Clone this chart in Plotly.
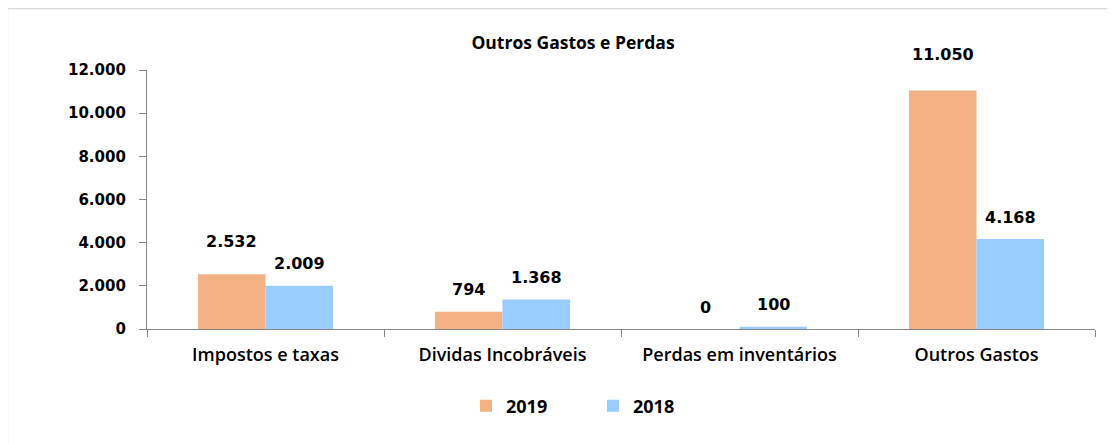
import plotly.graph_objects as go

categories = ["Impostos e taxas", "Dividas Incobráveis", "Perdas em inventários", "Outros Gastos"]
values_2019 = [2532, 794, 0, 11050]
values_2018 = [2009, 1368, 100, 4168]
series_names = ["2019", "2018"]
y_ticks = [0, 2000, 4000, 6000, 8000, 10000, 12000]

c2019 = "#F4B183"
c2018 = "#99CCFF"

W, H = 1115, 443
OFF = 8  # page body margin offset
# plot area in screen pixels: x 147..1095, y 70..329
L = 147 - OFF
T = 70 - OFF
R = W - (1095 - OFF)
B = H - (329 - OFF)
pw, ph = W - L - R, H - T - B

def fmt(v):
    return f"{v:,}".replace(",", ".")

fig = go.Figure()
fig.add_trace(go.Bar(x=categories, y=values_2019, name=series_names[0], marker_color=c2019,
                     marker_line_width=0, offsetgroup="a"))
fig.add_trace(go.Bar(x=categories, y=values_2018, name=series_names[1], marker_color=c2018,
                     marker_line_width=0, offsetgroup="b"))

label_font = dict(family="DejaVu Sans", size=16, color="#000000", weight="bold")
extra_2019 = [11, 0, 0, 14]
annotations = []
for i, c in enumerate(categories):
    annotations.append(dict(x=c, y=values_2019[i], xref="x", yref="y", text=fmt(values_2019[i]),
                            showarrow=False, xshift=-34, yshift=22 + extra_2019[i], font=label_font))
    annotations.append(dict(x=c, y=values_2018[i], xref="x", yref="y", text=fmt(values_2018[i]),
                            showarrow=False, xshift=34, yshift=22, font=label_font))

def sx(px):  # screen x -> paper
    return (px - OFF - L) / pw

def sy(py):  # screen y -> paper
    return (H - B - (py - OFF)) / ph

shapes = [dict(type="rect", xref="paper", yref="paper",
               x0=sx(7.5), x1=sx(1140),
               y0=sy(470), y1=sy(8.5),
               line=dict(color="#D9D9D9", width=1.3), fillcolor="rgba(0,0,0,0)", layer="below")]

fig.update_layout(
    width=W, height=H,
    margin=dict(l=L, r=R, t=T, b=B, autoexpand=False),
    paper_bgcolor="white", plot_bgcolor="white",
    separators=",.",
    bargap=0.43, bargroupgap=0,
    title=dict(text="Outros Gastos e Perdas", x=(573 - OFF) / W, xanchor="center",
               y=1 - (43 - OFF) / H, yanchor="middle", yref="container",
               font=dict(family="Open Sans", size=17.5, color="#000000", weight=700)),
    xaxis=dict(showline=True, linecolor="#868686", linewidth=1.3, ticks="outside",
               tickson="boundaries", ticklen=7, tickcolor="#868686", tickwidth=1.3,
               showgrid=False, ticklabelstandoff=9, automargin=False,
               tickfont=dict(family="Open Sans", size=18, color="#000000", weight=600)),
    yaxis=dict(range=[0, 12000], tickvals=y_ticks, tickformat=",d", showline=True,
               linecolor="#868686", linewidth=1.3, ticks="outside", ticklen=7,
               tickcolor="#868686", tickwidth=1.3, showgrid=False, zeroline=False,
               ticklabelstandoff=10, automargin=False,
               tickfont=dict(family="DejaVu Sans", size=15, color="#000000", weight="bold")),
    legend=dict(orientation="h", x=sx(593), xanchor="center",
                y=sy(406), yanchor="middle",
                entrywidth=82, entrywidthmode="pixels", traceorder="normal",
                itemwidth=30,
                font=dict(family="Open Sans", size=18, color="#000000", weight=700)),
    annotations=annotations,
    shapes=shapes,
)

fig.write_html("out.html")
